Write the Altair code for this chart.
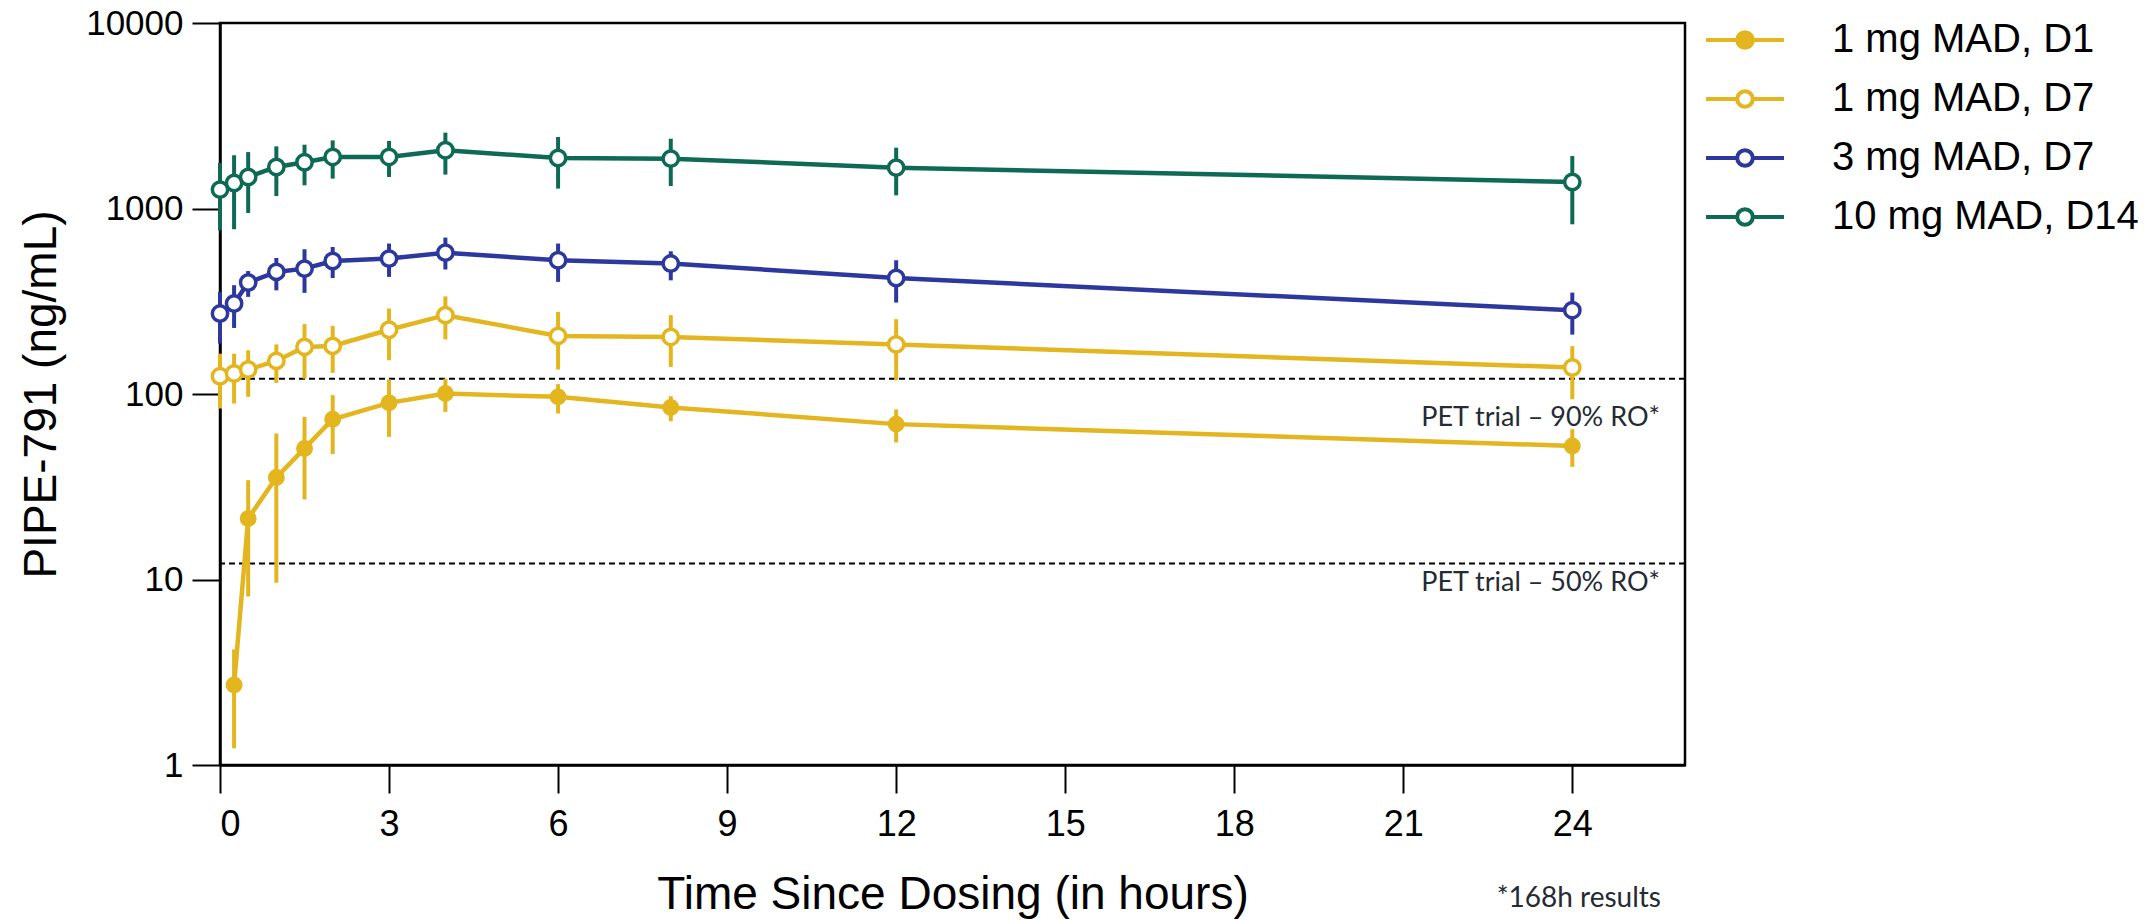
import altair as alt
import pandas as pd

# ---------------- data ----------------
series_names = ["1 mg MAD, D1", "1 mg MAD, D7", "3 mg MAD, D7", "10 mg MAD, D14"]
stroke_colors = ["#E3B51E", "#E3B51E", "#2D389E", "#0E6A54"]
fill_colors = ["#E3B51E", "#FFFFFF", "#FFFFFF", "#FFFFFF"]

t_d1 = [0.25, 0.5, 1, 1.5, 2, 3, 4, 6, 8, 12, 24]
d1_mean = [2.7, 21.3, 35.5, 50.9, 73.1, 89.6, 100.6, 96.5, 84.6, 68.8, 52.5]
d1_low = [1.23, 8.1, 9.6, 27.0, 47.4, 58.7, 80.1, 78.5, 71.3, 54.8, 40.5]
d1_high = [4.2, 34.3, 61.2, 75.3, 98.6, 119.7, 121, 113, 97.3, 82.5, 64.6]

t_full = [0, 0.25, 0.5, 1, 1.5, 2, 3, 4, 6, 8, 12, 24]
mg1_d7_mean = [124.7, 129, 135.5, 150.8, 179.4, 181.6, 222, 266, 205.6, 203, 185, 139]
mg1_d7_low = [83.5, 88.9, 96.5, 114.8, 121, 130, 152, 197, 135.5, 140, 118.6, 93.7]
mg1_d7_high = [165, 165, 172, 185, 238, 233, 289, 336, 277, 266, 253, 181]

mg3_d7_mean = [271.5, 307.6, 399, 455, 474, 521, 537, 578, 526, 505, 422, 283]
mg3_d7_low = [187, 227, 334, 362, 351, 422, 428, 469, 402, 410, 311, 209]
mg3_d7_high = [355, 386, 460, 541, 603, 620, 647, 697, 647, 588, 526, 352]

mg10_d14_mean = [1265, 1372, 1479, 1674, 1775, 1896, 1896, 2060, 1872, 1857, 1660, 1390]
mg10_d14_low = [763, 773, 946, 1168, 1334, 1449, 1479, 1523, 1280, 1322, 1178, 822]
mg10_d14_high = [1759, 1936, 2015, 2163, 2208, 2329, 2311, 2564, 2429, 2378, 2128, 1918]

threshold_values = [121, 12.2]
threshold_labels = ["PET trial \u2013 90% RO*", "PET trial \u2013 50% RO*"]

x_ticks = [0, 3, 6, 9, 12, 15, 18, 21, 24]
y_ticks = [1, 10, 100, 1000, 10000]
footnote = "*168h results"

# ---------------- tables ----------------
rows = []
for name, ts, m, lo, hi in [
    (series_names[0], t_d1, d1_mean, d1_low, d1_high),
    (series_names[1], t_full, mg1_d7_mean, mg1_d7_low, mg1_d7_high),
    (series_names[2], t_full, mg3_d7_mean, mg3_d7_low, mg3_d7_high),
    (series_names[3], t_full, mg10_d14_mean, mg10_d14_low, mg10_d14_high),
]:
    for t, a, b, c in zip(ts, m, lo, hi):
        rows.append({"series": name, "t": t, "mean": a, "low": b, "high": c})
df = pd.DataFrame(rows)

thr = pd.DataFrame({"value": threshold_values, "label": threshold_labels})

W, H = 1465, 742
FONT = "Arial, Liberation Sans, sans-serif"

xscale = alt.Scale(domain=[0, 26], nice=False, zero=False)
yscale = alt.Scale(type="log", domain=[1, 10000], nice=False)
stroke_scale = alt.Scale(domain=series_names, range=stroke_colors)
fill_scale = alt.Scale(domain=series_names, range=fill_colors)

legend_symbol = ("M-1,0H-0.2M0.2,0H1"
                 "M-0.2,0A0.2,0.2 0 1,0 0.2,0A0.2,0.2 0 1,0 -0.2,0Z")

def make_legend():
    return alt.Legend(title=None, orient="none", legendX=1484, legendY=-3,
                      symbolType=legend_symbol, symbolSize=6084,
                      symbolStrokeWidth=4, labelFont=FONT, labelFontSize=40,
                      labelColor="black", labelOffset=46,
                      clipHeight=40, rowPadding=19, padding=0, labelLimit=600)

stroke_enc = alt.Stroke("series:N", scale=stroke_scale, legend=make_legend())
fill_enc = alt.Fill("series:N", scale=fill_scale, legend=make_legend())

x_enc = alt.X("t:Q", scale=xscale,
              axis=alt.Axis(values=x_ticks, title="Time Since Dosing (in hours)",
                            format="d"))
y_enc = alt.Y("mean:Q", scale=yscale,
              axis=alt.Axis(values=y_ticks, title="PIPE-791 (ng/mL)", format="d"))

base = alt.Chart(df)

errbars = base.mark_rule(strokeWidth=4).encode(
    x=alt.X("t:Q", scale=xscale),
    y=alt.Y("low:Q", scale=yscale),
    y2="high:Q",
    stroke=stroke_enc,
)

lines = base.mark_line(strokeWidth=4.5).encode(
    x=x_enc,
    y=y_enc,
    stroke=stroke_enc,
    detail="series:N",
)

points_open = base.transform_filter(
    alt.datum.series != series_names[0]
).mark_point(filled=True, size=235, strokeWidth=3.5, opacity=1).encode(
    x=alt.X("t:Q", scale=xscale),
    y=alt.Y("mean:Q", scale=yscale),
    stroke=stroke_enc,
    fill=fill_enc,
)

points_filled = base.transform_filter(
    alt.datum.series == series_names[0]
).mark_point(filled=True, size=180, strokeWidth=3.5, opacity=1).encode(
    x=alt.X("t:Q", scale=xscale),
    y=alt.Y("mean:Q", scale=yscale),
    stroke=stroke_enc,
    fill=fill_enc,
)

thr_rules = alt.Chart(thr).mark_rule(strokeDash=[6, 4], strokeWidth=2, color="black").encode(
    y=alt.Y("value:Q", scale=yscale)
)

thr_text90 = alt.Chart(thr).transform_filter(alt.datum.value > 50).mark_text(
    align="right", baseline="middle", font="Lato", fontSize=27, color="#252A33", dy=39
).encode(x=alt.value(1440), y=alt.Y("value:Q", scale=yscale), text="label:N")

thr_text50 = alt.Chart(thr).transform_filter(alt.datum.value < 50).mark_text(
    align="right", baseline="middle", font="Lato", fontSize=27, color="#252A33", dy=20
).encode(x=alt.value(1440), y=alt.Y("value:Q", scale=yscale), text="label:N")

foot = alt.Chart(pd.DataFrame({"text": [footnote]})).mark_text(
    align="right", baseline="middle", font="Lato", fontSize=28, color="#252A33"
).encode(x=alt.value(1441), y=alt.value(876), text="text:N")

chart = alt.layer(
    thr_rules, errbars, lines, points_filled, points_open, thr_text90, thr_text50, foot
).properties(
    width=W, height=H,
    autosize=alt.AutoSizeParams(type="none"),
    padding={"left": 220, "top": 23, "right": 468, "bottom": 157},
).configure_view(
    stroke="black", strokeWidth=2.5
).configure_axis(
    grid=False,
    domainColor="black", domainWidth=2.5,
    tickColor="black", tickWidth=2, tickSize=28,
    labelFont=FONT, labelFontSize=35, labelColor="black",
    titleFont=FONT, titleFontSize=46, titleFontWeight="normal", titleColor="black",
).configure_axisX(
    labelPadding=14, titlePadding=30, labelFontSize=36,
).configure_axisY(
    labelPadding=9, titlePadding=20,
)

chart.save("out.html", embed_options={"renderer": "svg", "actions": False})
